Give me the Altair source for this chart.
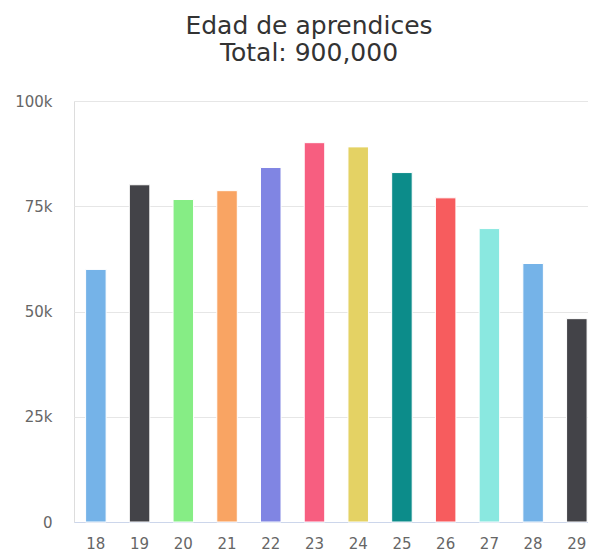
import altair as alt
import pandas as pd

ages = ["18", "19", "20", "21", "22", "23", "24", "25", "26", "27", "28", "29"]
values = [60000, 80100, 76600, 78700, 84200, 90100, 89100, 83000, 77000, 69700, 61400, 48300]
colors = ["#75b3e8", "#434348", "#86ed85", "#f9a463", "#8085e3", "#f75e80",
          "#e4d264", "#0c8c8a", "#f75c5e", "#8ae8e0", "#75b3e8", "#434348"]
y_ticks = [0, 25000, 50000, 75000, 100000]
title_lines = ["Edad de aprendices", "Total: 900,000"]

df = pd.DataFrame({"age": ages, "value": values})

FONT = "DejaVu Sans"

chart = alt.Chart(df).mark_bar(stroke="white", strokeWidth=1).encode(
    x=alt.X(
        "age:N",
        sort=ages,
        scale=alt.Scale(range=[0, 524.7], paddingInner=0.531, paddingOuter=0.2655),
        axis=alt.Axis(
            title=None, labelAngle=0, ticks=False, domain=True, domainColor="#ccd6eb",
            domainWidth=1, labelPadding=14, labelFontSize=15, labelFont=FONT,
            labelColor="#666666", grid=False,
        ),
    ),
    y=alt.Y(
        "value:Q",
        scale=alt.Scale(domain=[0, 100000], nice=False),
        axis=alt.Axis(
            title=None, values=y_ticks, ticks=False, domain=False, grid=True,
            gridColor="#e6e6e6", gridWidth=1, labelPadding=22, labelFontSize=15,
            labelFont=FONT, labelColor="#666666",
            labelExpr="datum.value == 0 ? '0' : (datum.value / 1000) + 'k'",
        ),
    ),
    color=alt.Color("age:N", scale=alt.Scale(domain=ages, range=colors), legend=None),
).properties(
    width=514,
    height=421,
    title=alt.TitleParams(
        text=title_lines, font=FONT, fontSize=25, fontWeight="normal", color="#333333",
        lineHeight=27, anchor="middle", frame="group", dx=-22, offset=28,
    ),
    autosize=alt.AutoSizeParams(type="none"),
    padding={"left": 66, "top": 93, "right": 0, "bottom": 32},
).configure_view(stroke=None).configure(background="white")

chart.save("out.html", embed_options={"renderer": "svg", "actions": False})
